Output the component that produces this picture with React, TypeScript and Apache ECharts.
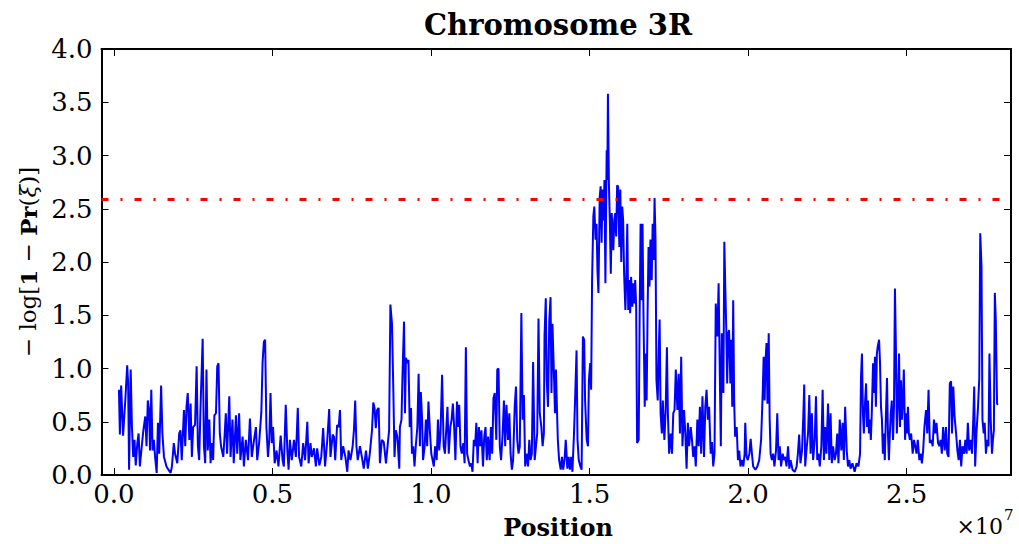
import React, { useEffect, useRef } from "react";
import * as echarts from "echarts";

// Positions are in megabases (Mb); values are -log[1 - Pr(xi)]
const posA = [
  0.16, 0.19, 0.23, 0.29, 0.36, 0.42, 0.45, 0.48, 0.53, 0.57,
  0.61, 0.65, 0.69, 0.74, 0.78, 0.82, 0.88, 0.93, 0.99, 1.03,
  1.07, 1.11, 1.14, 1.18, 1.22, 1.26, 1.30, 1.35, 1.39, 1.43,
  1.49, 1.53, 1.58, 1.66, 1.72, 1.79, 1.83, 1.89, 1.93, 2.00,
  2.06, 2.10, 2.14, 2.21, 2.25, 2.29, 2.33, 2.38, 2.42, 2.46,
  2.50, 2.56, 2.61, 2.65, 2.69, 2.73, 2.80, 2.84, 2.88, 2.92,
  2.96, 3.01, 3.05, 3.09, 3.13, 3.17, 3.22, 3.26, 3.30, 3.34,
  3.38, 3.45, 3.49, 3.53, 3.57, 3.64, 3.68, 3.74, 3.78, 3.85,
  3.89, 3.95, 3.99, 4.06, 4.10, 4.16, 4.23, 4.29, 4.35, 4.42,
  4.48, 4.52, 4.58, 4.65, 4.69, 4.73, 4.77, 4.81, 4.86, 4.90,
  4.94, 4.98, 5.02, 5.07, 5.13, 5.19, 5.26, 5.32, 5.36, 5.42,
  5.47, 5.51, 5.55, 5.61, 5.68, 5.74, 5.80, 5.84, 5.91, 5.97,
  6.03, 6.10, 6.14, 6.20, 6.24, 6.31, 6.37, 6.41, 6.48, 6.54,
  6.60, 6.66, 6.73, 6.79, 6.83, 6.90, 6.94, 6.98, 7.04, 7.09,
  7.13, 7.17, 7.23, 7.30, 7.36, 7.40, 7.46, 7.53, 7.57, 7.61,
  7.65, 7.69, 7.76, 7.82, 7.88, 7.95, 8.01, 8.07, 8.14, 8.18,
  8.22, 8.26, 8.30, 8.35, 8.39, 8.45, 8.51, 8.58, 8.64, 8.68,
  8.72, 8.77, 8.81, 8.85, 8.89, 8.94, 9.00,
];
const valA = [
  0.80, 0.38, 0.84, 0.37, 0.70, 1.03, 0.86, 0.05, 0.99, 0.45,
  0.17, 0.33, 0.09, 0.30, 0.39, 0.08, 0.27, 0.42, 0.55, 0.27,
  0.70, 0.61, 0.23, 0.80, 0.23, 0.33, 0.17, 0.02, 0.49, 0.20,
  0.84, 0.39, 0.17, 0.08, 0.05, 0.02, 0.08, 0.30, 0.20, 0.11,
  0.39, 0.42, 0.14, 0.61, 0.27, 0.64, 0.77, 0.33, 0.67, 0.17,
  0.45, 0.47, 1.02, 0.27, 0.14, 0.61, 1.28, 0.27, 0.11, 0.99,
  0.23, 0.52, 0.11, 0.30, 0.14, 0.56, 0.58, 1.02, 1.05, 0.39,
  0.27, 0.17, 0.36, 0.58, 0.20, 0.74, 0.17, 0.52, 0.11, 0.56,
  0.20, 0.58, 0.14, 0.36, 0.08, 0.33, 0.14, 0.53, 0.17, 0.33,
  0.45, 0.14, 0.30, 0.59, 1.06, 1.25, 1.27, 0.45, 0.17, 0.33,
  0.77, 0.30, 0.45, 0.11, 0.23, 0.08, 0.37, 0.14, 0.08, 0.66,
  0.23, 0.05, 0.33, 0.14, 0.33, 0.17, 0.63, 0.17, 0.08, 0.30,
  0.14, 0.50, 0.11, 0.30, 0.17, 0.25, 0.08, 0.25, 0.09, 0.17,
  0.44, 0.08, 0.33, 0.62, 0.17, 0.38, 0.36, 0.14, 0.47, 0.45,
  0.61, 0.14, 0.27, 0.17, 0.03, 0.23, 0.14, 0.27, 0.42, 0.70,
  0.27, 0.14, 0.27, 0.17, 0.06, 0.23, 0.06, 0.20, 0.42, 0.68,
  0.63, 0.44, 0.61, 0.63, 0.11, 0.33, 0.31, 0.11, 0.30, 0.42,
  1.60, 1.42, 0.83, 0.17, 0.42, 0.36, 0.06,
];

const posB = [
  9.02, 9.07, 9.10, 9.15, 9.18, 9.21, 9.25, 9.29, 9.33, 9.37,
  9.40, 9.44, 9.48, 9.52, 9.57, 9.61, 9.65, 9.68, 9.72, 9.75,
  9.80, 9.84, 9.88, 9.92, 9.97, 10.01, 10.05, 10.09, 10.13, 10.18,
  10.22, 10.26, 10.30, 10.35, 10.40, 10.44, 10.48, 10.52, 10.56, 10.61,
  10.65, 10.69, 10.73, 10.77, 10.82, 10.86, 10.89, 10.93, 10.97, 11.02,
  11.06, 11.10, 11.14, 11.18, 11.23, 11.27, 11.31, 11.35, 11.39, 11.43,
  11.47, 11.51, 11.55, 11.59, 11.64, 11.68, 11.72, 11.76, 11.80, 11.85,
  11.89, 11.93, 11.97, 12.01, 12.06, 12.09, 12.13, 12.17, 12.21, 12.26,
  12.30, 12.34, 12.38, 12.43, 12.47, 12.51, 12.55, 12.59, 12.64, 12.68,
  12.72, 12.76, 12.80, 12.85, 12.89, 12.93, 12.97, 13.01, 13.06, 13.10,
  13.14, 13.18, 13.22, 13.27, 13.31, 13.35, 13.39, 13.43, 13.48, 13.52,
  13.56, 13.58, 13.62, 13.65, 13.69, 13.73, 13.77, 13.80, 13.83, 13.88,
  13.91, 13.94, 13.97, 14.00, 14.04, 14.09, 14.13, 14.17, 14.21, 14.25,
  14.30, 14.34, 14.38, 14.42, 14.46, 14.51, 14.55, 14.59, 14.62, 14.66,
  14.71, 14.75, 14.79, 14.83, 14.86, 14.91, 14.95, 14.98, 15.02, 15.05,
  15.08, 15.12, 15.15, 15.19, 15.22, 15.25, 15.28, 15.32, 15.35, 15.38,
  15.41, 15.44, 15.47, 15.50, 15.54, 15.56, 15.58, 15.61, 15.64, 15.67,
  15.70, 15.75, 15.78, 15.81, 15.84, 15.87, 15.90, 15.94, 15.97, 16.00,
  16.03, 16.06, 16.09, 16.13, 16.16, 16.19, 16.22, 16.25, 16.28, 16.31,
  16.35, 16.38, 16.41, 16.44, 16.47, 16.50, 16.55, 16.58, 16.61, 16.64,
  16.67, 16.70, 16.74, 16.77, 16.80, 16.83, 16.86, 16.89, 16.92, 16.96,
  16.99, 17.02, 17.05, 17.08, 17.11, 17.15, 17.18, 17.21, 17.24, 17.28,
  17.31, 17.36, 17.40, 17.44, 17.47, 17.51, 17.56, 17.60, 17.64, 17.68,
  17.72, 17.77, 17.81, 17.85, 17.89, 17.93, 17.98, 18.02, 18.06, 18.10,
  18.14, 18.19, 18.23, 18.27, 18.31, 18.35, 18.40, 18.44,
];
const valB = [
  0.45, 0.52, 0.92, 1.44, 0.58, 1.10, 1.05, 1.08, 0.45, 0.63,
  0.20, 0.27, 0.08, 0.27, 0.45, 0.95, 0.27, 0.78, 0.52, 0.14,
  0.27, 0.52, 0.27, 0.69, 0.39, 0.20, 0.14, 0.08, 0.27, 0.14,
  0.52, 0.23, 0.39, 0.94, 0.27, 0.20, 0.42, 0.64, 0.20, 0.45,
  0.52, 0.67, 0.45, 0.14, 0.69, 0.45, 0.66, 0.27, 0.20, 0.30,
  0.11, 1.20, 0.20, 0.14, 0.08, 0.11, 0.03, 0.33, 0.27, 0.49,
  0.11, 0.45, 0.27, 0.42, 0.08, 0.36, 0.45, 0.14, 0.36, 0.14,
  0.45, 0.20, 0.72, 0.77, 0.33, 0.99, 1.00, 0.27, 0.14, 0.39,
  0.70, 0.27, 0.66, 0.33, 0.58, 0.20, 0.05, 0.14, 0.64, 0.83,
  0.33, 0.20, 0.27, 1.52, 0.52, 0.75, 0.08, 0.20, 0.08, 0.33,
  0.14, 0.20, 1.06, 0.14, 0.27, 0.39, 1.47, 0.58, 0.45, 0.27,
  0.39, 1.30, 1.66, 0.89, 0.64, 1.44, 1.67, 0.77, 1.42, 0.92,
  0.58, 0.99, 0.64, 0.33, 0.14, 0.05, 0.17, 0.05, 0.14, 0.33,
  0.06, 0.17, 0.05, 0.17, 0.03, 0.39, 0.77, 1.17, 0.33, 0.14,
  0.08, 0.05, 1.30, 1.27, 0.70, 0.33, 0.27, 0.89, 1.05, 0.80,
  1.83, 2.43, 2.52, 2.21, 2.36, 1.92, 1.71, 2.61, 2.71, 2.18,
  2.68, 2.39, 2.77, 1.80, 3.05, 2.77, 3.58, 2.74, 2.39, 1.89,
  2.46, 2.11, 2.39, 2.46, 2.24, 2.72, 2.71, 2.14, 2.68, 2.00,
  2.52, 2.39, 1.89, 1.55, 1.86, 2.36, 1.55, 1.83, 1.52, 1.86,
  1.58, 1.80, 1.61, 1.83, 1.58, 0.30, 0.33, 1.52, 2.36, 1.64,
  2.36, 1.52, 0.64, 1.14, 0.70, 1.52, 2.14, 1.77, 2.21, 1.83,
  2.36, 2.02, 2.60, 2.21, 0.89, 0.70, 1.14, 1.46, 0.58, 0.39,
  0.70, 0.33, 0.61, 1.20, 0.58, 0.20, 0.39, 0.20, 0.58, 0.61,
  0.99, 0.61, 0.95, 0.39, 1.11, 0.27, 0.61, 0.39, 0.06, 0.49,
  0.27, 0.45, 0.33, 0.17, 0.27, 0.08, 0.52, 0.27,
];

const posC = [
  18.48, 18.52, 18.56, 18.61, 18.65, 18.69, 18.73, 18.77, 18.82, 18.86,
  18.90, 18.94, 18.98, 19.03, 19.07, 19.11, 19.14, 19.17, 19.22, 19.25,
  19.28, 19.31, 19.34, 19.37, 19.40, 19.44, 19.47, 19.50, 19.53, 19.56,
  19.59, 19.64, 19.68, 19.72, 19.76, 19.80, 19.85, 19.89, 19.91, 19.95,
  19.99, 20.04, 20.08, 20.12, 20.16, 20.23, 20.29, 20.35, 20.41, 20.46,
  20.49, 20.52, 20.55, 20.58, 20.61, 20.65, 20.68, 20.71, 20.75, 20.79,
  20.83, 20.88, 20.92, 20.96, 21.00, 21.04, 21.09, 21.13, 21.17, 21.21,
  21.26, 21.30, 21.34, 21.40, 21.47, 21.53, 21.57, 21.61, 21.65, 21.70,
  21.74, 21.77, 21.80, 21.84, 21.89, 21.93, 21.97, 22.01, 22.05, 22.10,
  22.14, 22.18, 22.22, 22.26, 22.31, 22.35, 22.39, 22.43, 22.47, 22.52,
  22.56, 22.60, 22.64, 22.68, 22.73, 22.77, 22.81, 22.85, 22.89, 22.94,
  22.98, 23.02, 23.06, 23.11, 23.15, 23.19, 23.23, 23.29, 23.36, 23.42,
  23.48, 23.53, 23.56, 23.59, 23.62, 23.65, 23.68, 23.72, 23.75, 23.78,
  23.81, 23.84, 23.87, 23.90, 23.94, 23.97, 24.00, 24.03, 24.06, 24.09,
  24.13, 24.16, 24.19, 24.22, 24.25, 24.28, 24.31, 24.35, 24.38, 24.41,
  24.44, 24.47, 24.50, 24.53, 24.57, 24.60, 24.63, 24.66, 24.69, 24.72,
  24.76, 24.79, 24.82, 24.85, 24.88, 24.91, 24.95, 24.98, 25.01, 25.04,
  25.07, 25.10, 25.14, 25.19, 25.23, 25.27, 25.31, 25.35, 25.40, 25.44,
  25.48, 25.52, 25.56, 25.61, 25.65, 25.69, 25.73, 25.78, 25.82, 25.86,
  25.90, 25.94, 25.99, 26.03, 26.07, 26.11, 26.15, 26.20, 26.24, 26.28,
  26.32, 26.36, 26.40, 26.43, 26.47, 26.51, 26.55, 26.60, 26.64, 26.68,
  26.72, 26.76, 26.81, 26.85, 26.89, 26.93, 26.97, 27.02, 27.06, 27.10,
  27.13, 27.16, 27.20, 27.25, 27.29, 27.32, 27.36, 27.39, 27.43, 27.46,
  27.50, 27.54, 27.58, 27.61, 27.65, 27.69, 27.72, 27.75, 27.78, 27.81,
  27.85, 27.88,
];
const valC = [
  0.64, 0.20, 0.74, 0.17, 0.64, 0.80, 0.52, 0.64, 0.20, 0.31,
  0.08, 0.20, 1.61, 1.30, 1.80, 0.89, 0.27, 1.33, 0.77, 2.19,
  1.77, 1.39, 0.86, 1.33, 1.36, 0.86, 1.27, 0.64, 1.64, 0.70,
  0.36, 0.45, 0.14, 0.23, 0.08, 0.14, 0.08, 0.20, 0.49, 0.17,
  0.14, 0.20, 0.34, 0.20, 0.08, 0.05, 0.08, 0.14, 0.33, 0.77,
  1.11, 0.70, 1.08, 1.24, 0.67, 1.33, 0.52, 0.20, 0.14, 0.20,
  0.08, 0.23, 0.58, 0.14, 0.27, 0.08, 0.20, 0.14, 0.17, 0.08,
  0.27, 0.06, 0.14, 0.05, 0.03, 0.08, 0.20, 0.38, 0.11, 0.23,
  0.55, 0.85, 0.08, 0.23, 0.39, 0.75, 0.20, 0.58, 0.14, 0.33,
  0.74, 0.14, 0.20, 0.08, 0.27, 0.80, 0.14, 0.45, 0.20, 0.67,
  0.14, 0.58, 0.11, 0.27, 0.14, 0.20, 0.39, 0.11, 0.52, 0.23,
  0.49, 0.14, 0.64, 0.23, 0.08, 0.14, 0.06, 0.11, 0.03, 0.11,
  0.08, 0.20, 0.92, 1.14, 0.58, 0.39, 0.64, 0.86, 0.45, 0.70,
  0.39, 0.52, 0.33, 0.58, 1.05, 0.77, 1.11, 0.64, 1.14, 1.21,
  1.27, 1.05, 0.64, 0.52, 0.20, 0.39, 0.14, 0.61, 0.91, 0.39,
  0.14, 0.39, 0.58, 0.70, 0.33, 0.64, 1.75, 1.21, 0.39, 0.64,
  1.14, 0.45, 0.89, 0.52, 0.70, 0.99, 0.33, 0.58, 0.39, 0.64,
  0.39, 0.33, 0.39, 0.20, 0.33, 0.27, 0.20, 0.33, 0.14, 0.20,
  0.11, 0.23, 0.45, 0.61, 0.39, 0.80, 0.30, 0.33, 0.27, 0.52,
  0.39, 0.49, 0.30, 0.27, 0.33, 0.20, 0.45, 0.23, 0.45, 0.20,
  0.17, 0.86, 0.88, 0.39, 0.83, 0.55, 0.42, 0.23, 0.14, 0.33,
  0.08, 0.27, 0.20, 0.33, 0.20, 0.49, 0.23, 0.33, 0.20, 0.52,
  0.83, 0.08, 0.39, 0.64, 0.91, 2.27, 1.96, 0.52, 0.39, 0.49,
  0.20, 0.33, 0.27, 1.14, 0.52, 0.20, 0.33, 0.42, 1.71, 1.46,
  0.67, 0.66,
];

const threshold = 2.59;
const xTicksMb = [0, 5, 10, 15, 20, 25];
const xRangeMb = [-0.39, 28.29];
const yRange = [0, 4];
const yStep = 0.5;

const titleText = "Chromosome 3R";
const xLabelText = "Position";

export default function App() {
  const ref = useRef<HTMLDivElement>(null);

  useEffect(() => {
    if (!ref.current) return;
    const chart = echarts.init(ref.current, null, { renderer: "svg" });
    const positions = [...posA, ...posB, ...posC];
    const values = [...valA, ...valB, ...valC];
    const data = positions.map((p, i) => [p * 1e6, values[i]]);
    const xTickValues = xTicksMb.map((m) => m * 1e6);
    const serif = "'DejaVu Serif', serif";
    const black = "#000";

    const xAxisBase = {
      type: "value",
      min: xRangeMb[0] * 1e6,
      max: xRangeMb[1] * 1e6,
      splitLine: { show: false },
      axisLine: { show: true, onZero: false, lineStyle: { color: black, width: 2 } },
      axisTick: {
        show: true,
        inside: true,
        length: 7,
        customValues: xTickValues,
        lineStyle: { color: black, width: 1 },
      },
    };
    const yAxisBase = {
      type: "value",
      min: yRange[0],
      max: yRange[1],
      interval: yStep,
      splitLine: { show: false },
      axisLine: { show: true, onZero: false, lineStyle: { color: black, width: 2 } },
      axisTick: { show: true, inside: true, length: 7, lineStyle: { color: black, width: 1 } },
    };

    chart.setOption({
      animation: false,
      grid: { left: 101.5, right: 8, top: 49, bottom: 69, containLabel: false },
      xAxis: [
        {
          ...xAxisBase,
          position: "bottom",
          axisLabel: {
            customValues: xTickValues,
            formatter: (v: number) => (v / 1e7).toFixed(1),
            fontFamily: serif,
            fontSize: 26,
            color: black,
            margin: 6,
          },
        },
        { ...xAxisBase, position: "top", axisLabel: { show: false } },
      ],
      yAxis: [
        {
          ...yAxisBase,
          position: "left",
          axisLabel: {
            formatter: (v: number) => v.toFixed(1),
            fontFamily: serif,
            fontSize: 26,
            color: black,
            margin: 9,
          },
        },
        { ...yAxisBase, position: "right", axisLabel: { show: false } },
      ],
      series: [
        {
          type: "line",
          xAxisIndex: 0,
          yAxisIndex: 0,
          data,
          symbol: "none",
          showSymbol: false,
          lineStyle: { color: "#0000ff", width: 2 },
          silent: true,
          markLine: {
            silent: true,
            symbol: ["none", "none"],
            label: { show: false },
            lineStyle: { color: "#ff0000", width: 3, type: [7, 12, 2, 12], opacity: 1 },
            emphasis: { disabled: true },
            data: [{ yAxis: threshold }],
          },
        },
      ],
      graphic: [
        {
          type: "text",
          x: 558,
          y: 25,
          style: {
            text: titleText,
            fontFamily: serif,
            fontWeight: "bold",
            fontSize: 29,
            fill: black,
            align: "center",
            verticalAlign: "middle",
          },
        },
        {
          type: "text",
          x: 558,
          y: 527,
          style: {
            text: xLabelText,
            fontFamily: serif,
            fontWeight: "bold",
            fontSize: 24,
            fill: black,
            align: "center",
            verticalAlign: "middle",
          },
        },
        {
          type: "text",
          x: 1003,
          y: 526,
          style: {
            text: "×10",
            fontFamily: serif,
            fontSize: 22,
            fill: black,
            align: "right",
            verticalAlign: "middle",
          },
        },
        {
          type: "text",
          x: 1004,
          y: 515,
          style: {
            text: "7",
            fontFamily: serif,
            fontSize: 15,
            fill: black,
            align: "left",
            verticalAlign: "middle",
          },
        },
        {
          type: "text",
          x: 28,
          y: 262,
          rotation: Math.PI / 2,
          style: {
            text: "{a|− log[}{b|1}{a| − }{b|Pr}{a|(}{i|ξ}{a|)]}",
            fill: black,
            align: "center",
            verticalAlign: "middle",
            rich: {
              a: { fontFamily: serif, fontSize: 23, fill: black },
              b: { fontFamily: serif, fontSize: 23, fontWeight: "bold", fill: black },
              i: { fontFamily: serif, fontSize: 23, fontStyle: "italic", fill: black },
            },
          },
        },
      ],
    });

    return () => chart.dispose();
  }, []);

  return (
    <div
      ref={ref}
      style={{ position: "absolute", left: 0, top: 0, width: 1019, height: 544 }}
    />
  );
}
